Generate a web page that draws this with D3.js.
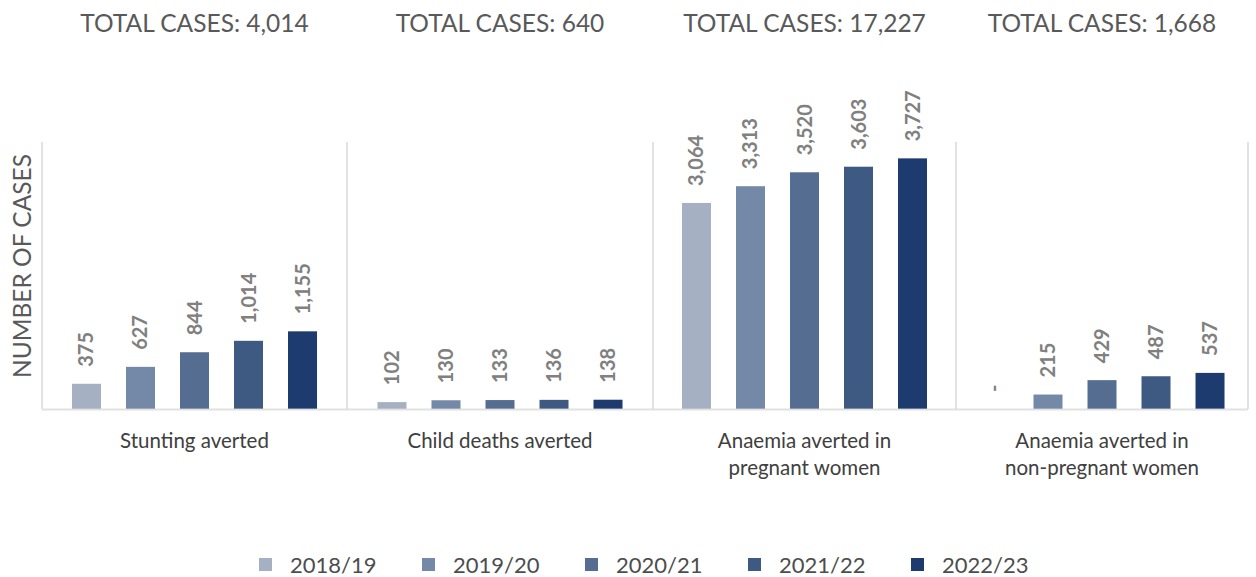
<!DOCTYPE html>
<html lang="en">
<head>
<meta charset="UTF-8">
<script src="https://d3js.org/d3.v7.min.js"></script>
<title>Cases averted</title>
<style>
  body { margin: 0; background: #fff; }
  text { font-family: Lato, "Open Sans", sans-serif; }
</style>
</head>
<body>
<script>
// data
var categories = [["Stunting averted"], ["Child deaths averted"],
                  ["Anaemia averted in", "pregnant women"],
                  ["Anaemia averted in", "non-pregnant women"]];
var years = ["2018/19", "2019/20", "2020/21", "2021/22", "2022/23"];
var v2018 = [375, 102, 3064, 0];
var v2019 = [627, 130, 3313, 215];
var v2020 = [844, 133, 3520, 429];
var v2021 = [1014, 136, 3603, 487];
var v2022 = [1155, 138, 3727, 537];
var totals = [4014, 640, 17227, 1668];
var series = [v2018, v2019, v2020, v2021, v2022];
var colors = ["#a5b0c3", "#7489a8", "#546d91", "#3f5a82", "#1d3b6e"];

var width = 1256, height = 577;
var svg = d3.select("body").append("svg").attr("width", width).attr("height", height);

// panel edges (the last panel is narrower in the original)
var edges = [42, 347, 653, 956, 1248];
var baseY = 409;

var y = d3.scaleLinear().domain([0, 4000]).range([baseY, 140]);
var xs = d3.scaleBand().domain(years).range([-150, 150])
           .paddingInner(0.463).paddingOuter(0.509);
var fmt = d3.format(",");

// vertical dividers
svg.append("g").selectAll("line")
   .data(edges)
   .join("line")
   .attr("x1", d => d).attr("x2", d => d)
   .attr("y1", 142).attr("y2", baseY)
   .attr("stroke", "#d9d9d9").attr("stroke-width", 1.5);

var panels = svg.append("g").selectAll("g")
   .data(categories)
   .join("g")
   .attr("transform", function(d, i) {
     return "translate(" + ((edges[i] + edges[i + 1]) / 2) + ",0)";
   });

// titles
panels.append("text")
   .attr("y", 32)
   .attr("text-anchor", "middle")
   .style("font-size", "24.5px")
   .attr("fill", "#595959")
   .text((d, i) => "TOTAL CASES: " + fmt(totals[i]));

// bars
panels.each(function(cat, ci) {
  var g = d3.select(this);
  var rows = years.map((yr, si) => ({ yr: yr, v: series[si][ci], c: colors[si] }));
  g.selectAll("rect")
   .data(rows.filter(d => d.v > 0))
   .join("rect")
   .attr("x", d => xs(d.yr))
   .attr("width", xs.bandwidth())
   .attr("y", d => y(d.v))
   .attr("height", d => baseY - y(d.v))
   .attr("fill", d => d.c);

  g.selectAll("text.val")
   .data(rows)
   .join("text")
   .attr("class", "val")
   .attr("transform", d => "translate(" + (xs(d.yr) + xs.bandwidth() / 2) + "," + (y(d.v) - 17) + ") rotate(-90)")
   .attr("dy", "0.35em")
   .style("font-size", "20px")
   .style("font-weight", "bold")
   .attr("fill", "#808080")
   .text(d => d.v > 0 ? fmt(d.v) : "-");

  g.append("text")
   .attr("text-anchor", "middle")
   .style("font-size", "20.5px")
   .attr("fill", "#404040")
   .selectAll("tspan")
   .data(cat)
   .join("tspan")
   .attr("x", 0)
   .attr("y", (d, i) => 448 + i * 27)
   .text(d => d);
});

// x axis line
svg.append("line")
   .attr("x1", edges[0]).attr("x2", edges[edges.length - 1])
   .attr("y1", baseY + 0.5).attr("y2", baseY + 0.5)
   .attr("stroke", "#d9d9d9").attr("stroke-width", 2).attr("stroke-opacity", 0.8);

// y title
svg.append("text")
   .attr("transform", "translate(31,266) rotate(-90)")
   .attr("text-anchor", "middle")
   .style("font-size", "24.5px")
   .attr("fill", "#595959")
   .text("NUMBER OF CASES");

// legend
var legend = svg.append("g")
   .selectAll("g")
   .data(years)
   .join("g")
   .attr("transform", (d, i) => "translate(" + (259 + i * 163) + ",565)");
legend.append("rect")
   .attr("x", 0).attr("y", -7)
   .attr("width", 13).attr("height", 13)
   .attr("fill", (d, i) => colors[i]);
legend.append("text")
   .attr("x", 31).attr("y", 0)
   .attr("dy", "0.35em")
   .style("font-size", "22px")
   .attr("fill", "#4d4d4d")
   .text(d => d);
</script>
</body>
</html>
